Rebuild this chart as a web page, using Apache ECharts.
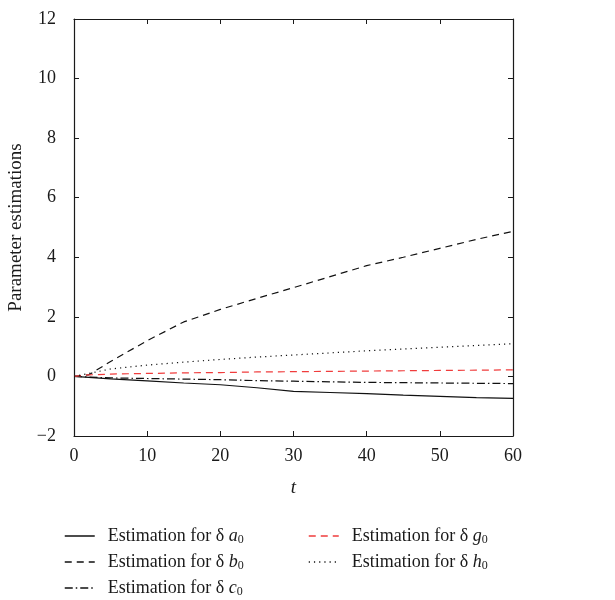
<!DOCTYPE html>
<html>
<head>
<meta charset="utf-8">
<script src="https://cdn.jsdelivr.net/npm/echarts@6/dist/echarts.min.js"></script>
<style>
    html, body { margin: 0; padding: 0; background: #fff; }
    #main { width: 615px; height: 600px; }
</style>
</head>
<body>
<div id="main"></div>
<script>
// 时间点
var tValues = [0, 2, 5, 10, 15, 20, 25, 30, 35, 40, 45, 50, 55, 60];
// 各参数估计值
var aValues = [0, -0.03, -0.08, -0.15, -0.22, -0.28, -0.38, -0.5, -0.54, -0.58, -0.63, -0.67, -0.71, -0.74];
var bValues = [0, 0.05, 0.5, 1.2, 1.83, 2.25, 2.62, 2.98, 3.35, 3.72, 4.0, 4.3, 4.6, 4.87];
var cValues = [0, -0.02, -0.05, -0.07, -0.09, -0.11, -0.14, -0.16, -0.18, -0.2, -0.21, -0.22, -0.23, -0.24];
var gValues = [0, 0.05, 0.08, 0.1, 0.12, 0.13, 0.15, 0.16, 0.17, 0.18, 0.19, 0.2, 0.21, 0.22];
var hValues = [0, 0.1, 0.25, 0.38, 0.48, 0.57, 0.65, 0.72, 0.79, 0.86, 0.92, 0.98, 1.04, 1.1];
var seriesNames = ['a 0', 'b 0', 'c 0', 'g 0', 'h 0'];

var font = 'Liberation Serif';
var ink = '#1a1a1a';

function pairs(vals) {
    var out = [];
    for (var i = 0; i < tValues.length; i++) {
        out.push([tValues[i], vals[i]]);
    }
    return out;
}

function makeSeries(name, vals, color, type) {
    return {
        name: name,
        type: 'line',
        data: pairs(vals),
        showSymbol: false,
        symbol: 'none',
        lineStyle: { color: color, width: 1.2, type: type },
        itemStyle: { color: color }
    };
}

var rich = {
    i: { fontFamily: font, fontStyle: 'italic', fontSize: 18, color: ink },
    s: { fontFamily: font, fontSize: 12, color: ink, padding: [8, 0, 0, 0] }
};

function legendName(name) {
    var p = name.split(' ');
    return 'Estimation for δ {i|' + p[0] + '}{s|' + p[1] + '}';
}

// 图例: 每项单独定位
var legendPos = [[64, 527], [64, 553], [64, 579], [308, 527], [308, 553]];
var legends = [];
for (var k = 0; k < seriesNames.length; k++) {
    legends.push({
        data: [seriesNames[k]],
        left: legendPos[k][0], top: legendPos[k][1],
        padding: 0,
        itemWidth: 30, itemHeight: 12,
        itemStyle: { opacity: 0 },
        lineStyle: { width: 1.5 },
        formatter: legendName,
        textStyle: { fontFamily: font, fontSize: 18, color: ink, rich: rich, padding: [0, 0, 0, 8] }
    });
}

function boxAxis(extra) {
    var base = {
        axisLine: { onZero: false, lineStyle: { color: ink, width: 1.2 } },
        axisTick: { inside: true, length: 5, lineStyle: { color: ink } },
        splitLine: { show: false }
    };
    for (var key in extra) base[key] = extra[key];
    return base;
}

var myChart = echarts.init(document.getElementById('main'));
var option = {
    backgroundColor: '#fff',
    animation: false,
    grid: { left: 74, right: 102, top: 19, bottom: 164, containLabel: false, outerBoundsMode: 'none' },
    legend: legends,
    xAxis: [
        boxAxis({
            type: 'value', min: 0, max: 60, interval: 10, position: 'bottom',
            name: 't', nameLocation: 'middle', nameGap: 42,
            nameTextStyle: { fontFamily: font, fontStyle: 'italic', fontSize: 19, color: ink },
            axisLabel: { fontFamily: font, fontSize: 18, color: ink, margin: 11 }
        }),
        boxAxis({
            type: 'value', min: 0, max: 60, interval: 10, position: 'top',
            axisLabel: { show: false }
        })
    ],
    yAxis: [
        boxAxis({
            type: 'value', min: -2, max: 12, interval: 2, position: 'left',
            name: 'Parameter estimations', nameLocation: 'middle', nameGap: 48,
            nameTextStyle: { fontFamily: font, fontSize: 19, color: ink },
            axisLabel: {
                fontFamily: font, fontSize: 18, color: ink, margin: 18,
                formatter: function (v) { return v < 0 ? '\u2212' + Math.abs(v) : String(v); }
            }
        }),
        boxAxis({
            type: 'value', min: -2, max: 12, interval: 2, position: 'right',
            axisLabel: { show: false }
        })
    ],
    series: [
        makeSeries('a 0', aValues, '#111', 'solid'),
        makeSeries('b 0', bValues, '#111', [7, 5]),
        makeSeries('c 0', cValues, '#111', [8, 3, 1.5, 3]),
        makeSeries('g 0', gValues, '#f03c3c', [7, 5]),
        makeSeries('h 0', hValues, '#111', [1.2, 4])
    ]
};
if (option && typeof option === "object") {
    myChart.setOption(option, true);
}
</script>
</body>
</html>
